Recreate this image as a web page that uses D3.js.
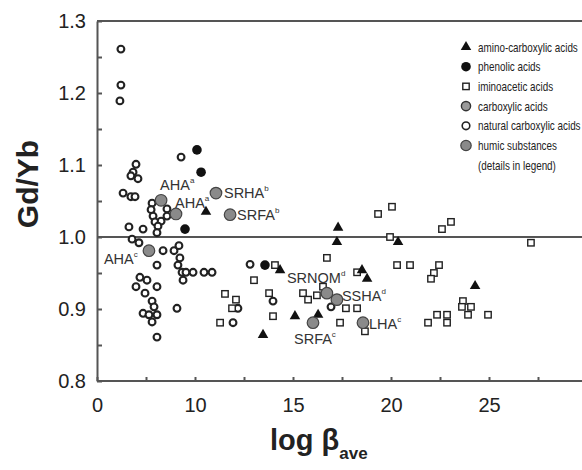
<!DOCTYPE html>
<html lang="en">
<head>
<meta charset="UTF-8">
<title>Gd/Yb vs log beta</title>
<script src="https://cdn.jsdelivr.net/npm/d3@7.8.5/dist/d3.min.js"></script>
<style>
  body { margin: 0; background: #fff; }
  svg { display: block; font-family: 'Liberation Sans', Arial, sans-serif; }
  .axis text { font-size: 20px; fill: #222; }
  .axis path, .axis line { stroke: #555; stroke-width: 2px; }
  .legend text { font-size: 13px; fill: #222; }
  .hs-label { font-size: 14.5px; fill: #333; }
</style>
</head>
<body>
<svg id="chart" width="582" height="470"></svg>
<script>
// amino-carboxylic acids (filled triangles)
const aminoX = [10.56, 17.30, 17.24, 20.36, 14.34, 18.52, 18.78, 15.10, 16.28, 13.47, 24.29];
const aminoY = [1.035, 1.013, 0.993, 0.993, 0.954, 0.954, 0.942, 0.890, 0.892, 0.864, 0.932];

// phenolic acids (filled circles)
const phenolX = [10.10, 10.31, 9.49, 13.57];
const phenolY = [1.121, 1.090, 1.011, 0.961];

// iminoacetic acids (open squares)
const iminoX = [19.34, 20.05, 19.95, 22.60, 23.06, 27.14, 14.08, 13.01, 16.73, 20.31, 20.97, 18.27,
                22.45, 22.19, 22.04, 11.53, 12.09, 11.89, 11.28, 13.78, 13.98, 15.51, 15.77, 16.22,
                16.53, 17.70, 18.27, 17.40, 18.67, 23.67, 23.62, 24.08, 23.93, 24.95, 22.35, 22.86,
                21.89, 22.86];
const iminoY = [1.032, 1.042, 1.000, 1.011, 1.021, 0.992, 0.961, 0.940, 0.971, 0.961, 0.961, 0.951,
                0.961, 0.950, 0.942, 0.921, 0.913, 0.901, 0.881, 0.922, 0.890, 0.922, 0.913, 0.919,
                0.931, 0.901, 0.901, 0.881, 0.869, 0.911, 0.903, 0.903, 0.892, 0.892, 0.892, 0.892,
                0.881, 0.881];

// natural carboxylic acids (open circles)
const naturalX = [6.22, 6.22, 6.17, 9.29, 6.99, 6.84, 6.73, 7.09, 6.33, 6.73, 6.94, 7.81, 7.76, 7.86,
                  7.96, 8.27, 8.11, 8.57, 8.57, 8.06, 6.63, 7.35, 6.79, 7.14, 8.37, 8.93, 9.18, 9.23,
                  9.13, 9.34, 9.54, 9.90, 10.46, 10.87, 9.39, 8.06, 7.19, 7.55, 6.99, 8.06, 7.45, 7.81,
                  7.91, 7.35, 7.65, 8.06, 7.81, 9.08, 8.06, 12.81, 12.19, 11.94, 13.98, 16.94];
const naturalY = [1.261, 1.211, 1.189, 1.111, 1.101, 1.090, 1.085, 1.081, 1.061, 1.056, 1.056, 1.047,
                  1.038, 1.029, 1.021, 1.022, 1.015, 1.039, 1.029, 1.006, 1.014, 1.011, 0.997, 0.992,
                  0.981, 0.981, 0.988, 0.971, 0.961, 0.951, 0.951, 0.951, 0.951, 0.951, 0.940, 0.961,
                  0.944, 0.940, 0.931, 0.931, 0.922, 0.911, 0.903, 0.894, 0.892, 0.892, 0.882, 0.901,
                  0.861, 0.962, 0.901, 0.881, 0.911, 0.903];

// humic substances (grey circles, labelled)
const humicNames = ["AHA", "AHA", "AHA", "SRHA", "SRFA", "SRNOM", "SSHA", "SRFA", "LHA"];
const humicSups  = ["a", "a", "c", "b", "b", "d", "d", "c", "c"];
const humicX = [8.27, 9.03, 7.65, 11.07, 11.79, 16.73, 17.24, 16.02, 18.57];
const humicY = [1.051, 1.032, 0.981, 1.061, 1.031, 0.922, 0.913, 0.881, 0.881];

// axes
const xTickValues = [5, 10, 15, 20, 25];
const xTickLabels = ["0", "10", "15", "20", "25"];
const yTickValues = [0.8, 0.9, 1.0, 1.1, 1.2, 1.3];
const yTickLabels = ["0.8", "0.9", "1.0", "1.1", "1.2", "1.3"];

const legendLabels = ["amino-carboxylic acids", "phenolic acids", "iminoacetic acids",
                      "carboxylic acids", "natural carboxylic acids", "humic substances",
                      "(details in legend)"];
const legendKinds = ["triangle", "phenol", "square", "carbox", "natural", "humic", null];

// ---- layout ----
const padL = 97, padT = 21, axisY = 381;
const svg = d3.select('#chart');

const x = d3.scaleLinear().domain([5, 30]).range([padL, padL + 25 * 19.6]);
const y = d3.scaleLinear().domain([0.8, 1.3]).range([axisY, padT]);

// top border and reference line at 1.0
svg.append('line')
    .attr('x1', padL).attr('x2', 582).attr('y1', padT).attr('y2', padT)
    .attr('stroke', '#555').attr('stroke-width', 2);
svg.append('line')
    .attr('x1', padL).attr('x2', 582).attr('y1', y(1.0)).attr('y2', y(1.0))
    .attr('stroke', '#555').attr('stroke-width', 2);

// x axis: ticks every 2.5, labels only on the listed values
const xTicks = d3.range(5, 30, 2.5);
const xAxis = d3.axisBottom(x)
    .tickValues(xTicks)
    .tickSizeInner(-4)
    .tickSizeOuter(0)
    .tickPadding(17)
    .tickFormat(v => {
        const i = xTickValues.indexOf(v);
        return i >= 0 ? xTickLabels[i] : '';
    });
const gx = svg.append('g').attr('class', 'axis')
    .attr('transform', `translate(0,${axisY})`)
    .call(xAxis);
gx.select('.domain').attr('d', `M${padL},0H582`);
gx.selectAll('.tick line').attr('stroke-width', 1.5);

// y axis: ticks every 0.05
const yTicks = d3.range(11).map(i => +(0.8 + i * 0.05).toFixed(2));
const yAxis = d3.axisLeft(y)
    .tickValues(yTicks)
    .tickSizeInner(-5)
    .tickSizeOuter(0)
    .tickPadding(11)
    .tickFormat(v => {
        const i = yTickValues.findIndex(t => Math.abs(t - v) < 1e-6);
        return i >= 0 ? yTickLabels[i] : '';
    });
const gy = svg.append('g').attr('class', 'axis')
    .attr('transform', `translate(${padL},0)`)
    .call(yAxis);
gy.selectAll('.tick line').attr('stroke-width', 1.5);

// axis titles
svg.append('text')
    .attr('transform', 'translate(38,184) rotate(-90)')
    .attr('text-anchor', 'middle')
    .style('font-size', '30px').style('font-weight', 'bold').style('fill', '#222')
    .text('Gd/Yb');

const xt = svg.append('text')
    .attr('x', 270).attr('y', 450)
    .style('font-size', '29px').style('font-weight', 'bold').style('fill', '#222');
xt.append('tspan').text('log β');
xt.append('tspan').attr('dy', 9).style('font-size', '17px').text('ave');

// ---- marks ----
const triangle = d3.symbol(d3.symbolTriangle).size(48);

const plot = svg.append('g');

plot.selectAll('.natural')
    .data(d3.zip(naturalX, naturalY))
    .join('circle')
    .attr('class', 'natural')
    .attr('cx', d => x(d[0])).attr('cy', d => y(d[1]))
    .attr('r', 3.4)
    .attr('fill', '#fff').attr('stroke', '#222').attr('stroke-width', 2.1);

plot.selectAll('.imino')
    .data(d3.zip(iminoX, iminoY))
    .join('rect')
    .attr('class', 'imino')
    .attr('x', d => x(d[0]) - 3.2).attr('y', d => y(d[1]) - 3.2)
    .attr('width', 6.4).attr('height', 6.4)
    .attr('fill', '#fff').attr('stroke', '#222').attr('stroke-width', 1.4);

plot.selectAll('.amino')
    .data(d3.zip(aminoX, aminoY))
    .join('path')
    .attr('class', 'amino')
    .attr('d', triangle)
    .attr('transform', d => `translate(${x(d[0])},${y(d[1])})`)
    .attr('fill', '#111');

plot.selectAll('.phenol')
    .data(d3.zip(phenolX, phenolY))
    .join('circle')
    .attr('class', 'phenol')
    .attr('cx', d => x(d[0])).attr('cy', d => y(d[1]))
    .attr('r', 4.8)
    .attr('fill', '#111');

const humic = humicNames.map((n, i) => ({ name: n, sup: humicSups[i], x: humicX[i], y: humicY[i] }));

plot.selectAll('.humic')
    .data(humic)
    .join('circle')
    .attr('class', 'humic')
    .attr('cx', d => x(d.x)).attr('cy', d => y(d.y))
    .attr('r', 5.8)
    .attr('fill', '#8a8a8a').attr('stroke', '#444').attr('stroke-width', 1.2);

// label placement relative to each grey point (text start, baseline)
const labelShift = [[-1, -10], [-1, -6], [-45, 13], [8, 5], [7, 5], [-40, -10], [5, 1], [-19, 21], [6, 6]];

const lab = plot.selectAll('.hs-label')
    .data(humic)
    .join('text')
    .attr('class', 'hs-label')
    .attr('x', (d, i) => x(d.x) + labelShift[i][0])
    .attr('y', (d, i) => y(d.y) + labelShift[i][1]);
lab.append('tspan').text(d => d.name);
lab.append('tspan').attr('dy', -7).style('font-size', '8px').text(d => d.sup);

// ---- legend ----
const legend = svg.append('g').attr('class', 'legend');
legendLabels.forEach((t, i) => {
    const ry = 47 + i * 19.7;
    const kind = legendKinds[i];
    const sx = 466;
    if (kind === 'triangle') {
        legend.append('path').attr('d', triangle)
            .attr('transform', `translate(${sx},${ry})`).attr('fill', '#111');
    } else if (kind === 'phenol') {
        legend.append('circle').attr('cx', sx).attr('cy', ry).attr('r', 4.8).attr('fill', '#111');
    } else if (kind === 'square') {
        legend.append('rect').attr('x', sx - 3.2).attr('y', ry - 3.2).attr('width', 6.4).attr('height', 6.4)
            .attr('fill', '#fff').attr('stroke', '#222').attr('stroke-width', 1.4);
    } else if (kind === 'carbox') {
        legend.append('circle').attr('cx', sx).attr('cy', ry).attr('r', 4.6)
            .attr('fill', '#9a9a9a').attr('stroke', '#333').attr('stroke-width', 1.4);
    } else if (kind === 'natural') {
        legend.append('circle').attr('cx', sx).attr('cy', ry).attr('r', 3.8)
            .attr('fill', '#fff').attr('stroke', '#222').attr('stroke-width', 1.6);
    } else if (kind === 'humic') {
        legend.append('circle').attr('cx', sx).attr('cy', ry).attr('r', 5.2)
            .attr('fill', '#8a8a8a').attr('stroke', '#444').attr('stroke-width', 1.2);
    }
    // the original legend face is a condensed one: squeeze it horizontally
    legend.append('text')
        .attr('transform', `translate(478,${ry + 4.5}) scale(0.76,1)`)
        .text(t);
});
</script>
</body>
</html>
